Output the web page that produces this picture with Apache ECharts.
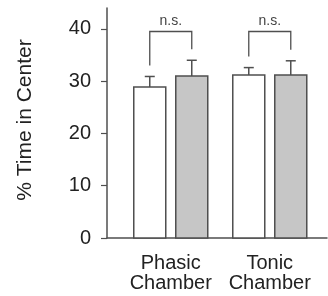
<!DOCTYPE html>
<html>
<head>
<meta charset="utf-8">
<script src="https://cdn.jsdelivr.net/npm/echarts@6/dist/echarts.min.js"></script>
<style>
  html, body { margin: 0; padding: 0; background: #fff; }
  #chart { width: 328px; height: 296px; }
</style>
</head>
<body>
<div id="chart"></div>
<script>
// data
const categories = ["Phasic\nChamber", "Tonic\nChamber"];
const whiteMeans = [28.9, 31.2];
const whiteSem = [2.0, 1.4];
const grayMeans = [31.0, 31.2];
const graySem = [3.0, 2.7];
const sigLabels = ["n.s.", "n.s."];
const bracketTop = [39.5, 39.5];
const yTicks = [0, 10, 20, 30, 40];

const font = "'Liberation Sans', Arial, sans-serif";
const lineColor = "#4f4f4f";
const barWidth = 32;
const barShift = 21;   // px from group centre to bar centre
const capHalf = 5;
const legGap = 11;     // px between error bar top and bracket leg

const chart = echarts.init(document.getElementById("chart"));

function barItem(shift, fill) {
    return function(params, api) {
        const x = api.value(0), m = api.value(1), s = api.value(2);
        const base = api.coord([x, 0]);
        const top = api.coord([x, m]);
        const err = api.coord([x, m + s]);
        const cx = base[0] + shift;
        return {
            type: "group",
            children: [
                {
                    type: "line",
                    shape: { x1: cx, y1: top[1], x2: cx, y2: err[1] },
                    style: { stroke: lineColor, lineWidth: 1.5 }
                },
                {
                    type: "line",
                    shape: { x1: cx - capHalf, y1: err[1], x2: cx + capHalf, y2: err[1] },
                    style: { stroke: lineColor, lineWidth: 1.5 }
                },
                {
                    type: "rect",
                    shape: { x: cx - barWidth / 2, y: top[1], width: barWidth, height: base[1] - top[1] },
                    style: { fill: fill, stroke: lineColor, lineWidth: 1.5 }
                }
            ]
        };
    };
}

function bracketItem(params, api) {
    const x = api.value(0);
    const top = api.coord([x, api.value(1)]);
    const left = api.coord([x, api.value(2)]);
    const right = api.coord([x, api.value(3)]);
    const lx = top[0] - barShift, rx = top[0] + barShift;
    return {
        type: "group",
        children: [
            {
                type: "polyline",
                shape: { points: [[lx, left[1] - legGap], [lx, top[1]], [rx, top[1]], [rx, right[1] - legGap]] },
                style: { stroke: lineColor, lineWidth: 1.3, fill: null }
            },
            {
                type: "text",
                style: {
                    x: top[0], y: top[1] - 3,
                    text: sigLabels[params.dataIndex],
                    font: "14px " + font,
                    fill: "#444",
                    align: "center",
                    verticalAlign: "bottom"
                }
            }
        ]
    };
}

const idx = categories.map((c, i) => i);

chart.setOption({
    animation: false,
    grid: { left: 107, right: 1, top: 8, bottom: 58 },
    xAxis: {
        type: "value",
        min: -0.644,
        max: 1.578,
        splitLine: { show: false },
        axisLine: { show: true, lineStyle: { color: lineColor, width: 1.5 } },
        axisTick: { show: false },
        axisLabel: {
            customValues: idx,
            formatter: v => categories[Math.round(v)],
            color: "#222",
            fontFamily: font,
            fontSize: 20,
            lineHeight: 20,
            margin: 15
        }
    },
    yAxis: {
        type: "value",
        min: 0,
        max: 44,
        splitLine: { show: false },
        axisLine: { show: true, onZero: false, lineStyle: { color: lineColor, width: 1.5 } },
        axisTick: { show: true, customValues: yTicks, length: 6, lineStyle: { color: lineColor, width: 1.2 } },
        axisLabel: {
            customValues: yTicks,
            color: "#222",
            fontFamily: font,
            fontSize: 20,
            margin: 16
        },
        name: "% Time in Center",
        nameLocation: "middle",
        nameGap: 71,
        nameTextStyle: { color: "#222", fontFamily: font, fontSize: 21, padding: [0, 0, 0, 6] }
    },
    series: [
        {
            type: "custom",
            renderItem: barItem(-barShift, "#ffffff"),
            data: idx.map(i => [i, whiteMeans[i], whiteSem[i]])
        },
        {
            type: "custom",
            renderItem: barItem(barShift, "#c6c6c6"),
            data: idx.map(i => [i, grayMeans[i], graySem[i]])
        },
        {
            type: "custom",
            renderItem: bracketItem,
            data: idx.map(i => [i, bracketTop[i], whiteMeans[i] + whiteSem[i], grayMeans[i] + graySem[i]])
        }
    ]
});
</script>
</body>
</html>
